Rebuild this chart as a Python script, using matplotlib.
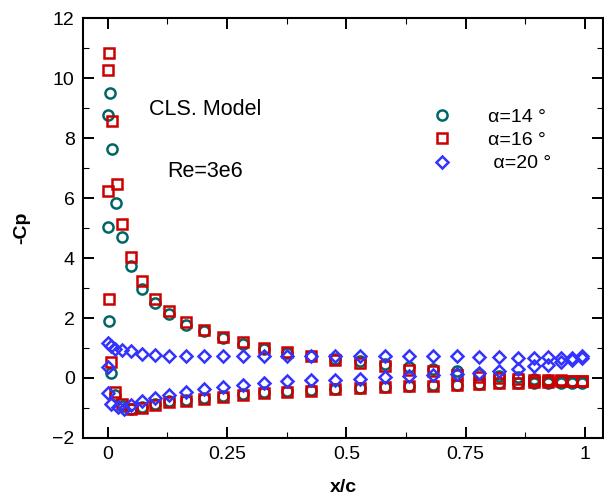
import matplotlib
matplotlib.use("Agg")
import matplotlib.pyplot as plt
from matplotlib.ticker import MultipleLocator

plt.rcParams['font.family'] = ['Liberation Sans', 'DejaVu Sans']

# chordwise stations aft of the leading edge (shared by all runs)
x_aft = [0.048, 0.071, 0.099, 0.129, 0.164, 0.202, 0.241, 0.284, 0.327, 0.376,
         0.427, 0.476, 0.529, 0.581, 0.632, 0.682, 0.731, 0.778, 0.820, 0.859,
         0.893, 0.923, 0.950, 0.972, 0.993]

# alpha = 14 deg
x14_le = [0.000, 0.000, 0.003, 0.005, 0.008, 0.010, 0.017, 0.029]
cp14_le = [5.03, 8.78, 1.90, 9.51, 0.17, 7.65, 5.83, 4.71]
cp14_up = [3.74, 2.98, 2.49, 2.12, 1.78, 1.56, 1.34, 1.15, 0.98, 0.85,
           0.74, 0.65, 0.58, 0.47, 0.38, 0.30, 0.22, 0.15, 0.08, 0.03,
           -0.02, -0.06, -0.09, -0.11, -0.12]
x14_lo_le = [0.016, 0.032]
cp14_lo_le = [-0.55, -0.93]
cp14_lo = [-1.04, -0.98, -0.88, -0.78, -0.72, -0.67, -0.60, -0.54, -0.48, -0.44,
           -0.41, -0.36, -0.33, -0.29, -0.26, -0.24, -0.22, -0.20, -0.18, -0.17,
           -0.16, -0.15, -0.15, -0.15, -0.15]

# alpha = 16 deg
x16_le = [0.000, 0.003, 0.010, 0.019, 0.000, 0.029, 0.003, 0.008]
cp16_le = [10.27, 10.83, 8.56, 6.47, 6.22, 5.13, 2.62, 0.54]
cp16_up = [4.05, 3.24, 2.64, 2.23, 1.86, 1.59, 1.37, 1.19, 1.00, 0.86,
           0.72, 0.59, 0.50, 0.39, 0.28, 0.22, 0.11, 0.05, 0.00, -0.03,
           -0.05, -0.08, -0.08, -0.09, -0.09]
x16_lo_le = [0.015, 0.030]
cp16_lo_le = [-0.45, -0.86]
cp16_lo = [-1.03, -0.99, -0.90, -0.80, -0.75, -0.70, -0.62, -0.56, -0.50, -0.45,
           -0.43, -0.37, -0.34, -0.30, -0.27, -0.25, -0.22, -0.20, -0.18, -0.16,
           -0.14, -0.12, -0.10, -0.09, -0.09]

# alpha = 20 deg
x20_le = [0.000, 0.006, 0.015, 0.029]
cp20_le = [1.17, 1.06, 0.97, 0.95]
cp20_up = [0.89, 0.80, 0.78, 0.75, 0.75, 0.74, 0.74, 0.74, 0.72, 0.73,
           0.74, 0.75, 0.75, 0.75, 0.75, 0.73, 0.73, 0.71, 0.70, 0.68,
           0.68, 0.69, 0.67, 0.68, 0.72]
x20_lo_le = [0.000, 0.001, 0.008, 0.021, 0.035]
cp20_lo_le = [0.36, -0.50, -0.86, -0.98, -1.02]
cp20_lo = [-0.91, -0.78, -0.68, -0.55, -0.45, -0.38, -0.29, -0.22, -0.16, -0.11,
           -0.08, -0.07, -0.02, 0.03, 0.06, 0.11, 0.14, 0.18, 0.22, 0.30,
           0.39, 0.45, 0.52, 0.61, 0.67]

labels = ['\u03b1=14 \u00b0', '\u03b1=16 \u00b0', ' \u03b1=20 \u00b0']

fig = plt.figure(figsize=(6.04, 5.01), dpi=100)
ax = fig.add_axes([83 / 604, 1 - 438 / 501, 520 / 604, 420 / 501])

c14, c16, c20 = '#006666', '#cc0000', '#3333ff'

def series(xs_le, cps_le, cps_up, xs_lo_le, cps_lo_le, cps_lo):
    xs = xs_le + x_aft + xs_lo_le + x_aft
    cps = cps_le + cps_up + cps_lo_le + cps_lo
    return xs, cps

x, cp = series(x14_le, cp14_le, cp14_up, x14_lo_le, cp14_lo_le, cp14_lo)
h14, = ax.plot(x, cp, 'o', ms=7.3, mfc='none', mec=c14, mew=1.8, label=labels[0])
x, cp = series(x16_le, cp16_le, cp16_up, x16_lo_le, cp16_lo_le, cp16_lo)
h16, = ax.plot(x, cp, 's', ms=6.5, mfc='none', mec=c16, mew=1.8, label=labels[1])
x, cp = series(x20_le, cp20_le, cp20_up, x20_lo_le, cp20_lo_le, cp20_lo)
h20, = ax.plot(x, cp, 'D', ms=6.4, mfc='none', mec=c20, mew=1.8, label=labels[2])

ax.set_xlim(-0.0517, 1.0377)
ax.set_ylim(-2, 12)
ax.xaxis.set_major_locator(MultipleLocator(0.25))
ax.xaxis.set_minor_locator(MultipleLocator(0.125))
ax.yaxis.set_major_locator(MultipleLocator(2))
ax.yaxis.set_minor_locator(MultipleLocator(1))
ax.set_xticks([0, 0.25, 0.5, 0.75, 1])
ax.set_xticklabels(['0', '0.25', '0.5', '0.75', '1'])
ax.tick_params(which='both', direction='in', top=True, right=True, labelsize=14)
ax.tick_params(which='major', length=8, width=1.4, pad=6)
ax.tick_params(which='minor', length=4, width=0.8)
for s in ax.spines.values():
    s.set_linewidth(1.5)

ax.set_xlabel('x/c', fontsize=14, fontweight='bold', labelpad=11)
ax.set_ylabel('-Cp', fontsize=14, fontweight='bold', labelpad=16)

ax.text(0.205, 8.95, 'CLS. Model', fontsize=15.5, ha='center', va='center')
ax.text(0.205, 6.9, 'Re=3e6', fontsize=15.5, ha='center', va='center')

ax.legend(handles=[h14, h16, h20], loc='upper left', frameon=False,
          bbox_to_anchor=(432 / 604, 1 - 108 / 501), bbox_transform=fig.transFigure,
          fontsize=14, handlelength=1.0, handletextpad=1.9, labelspacing=0.3,
          borderpad=0, borderaxespad=0)

fig.savefig('out.png', dpi=100)
